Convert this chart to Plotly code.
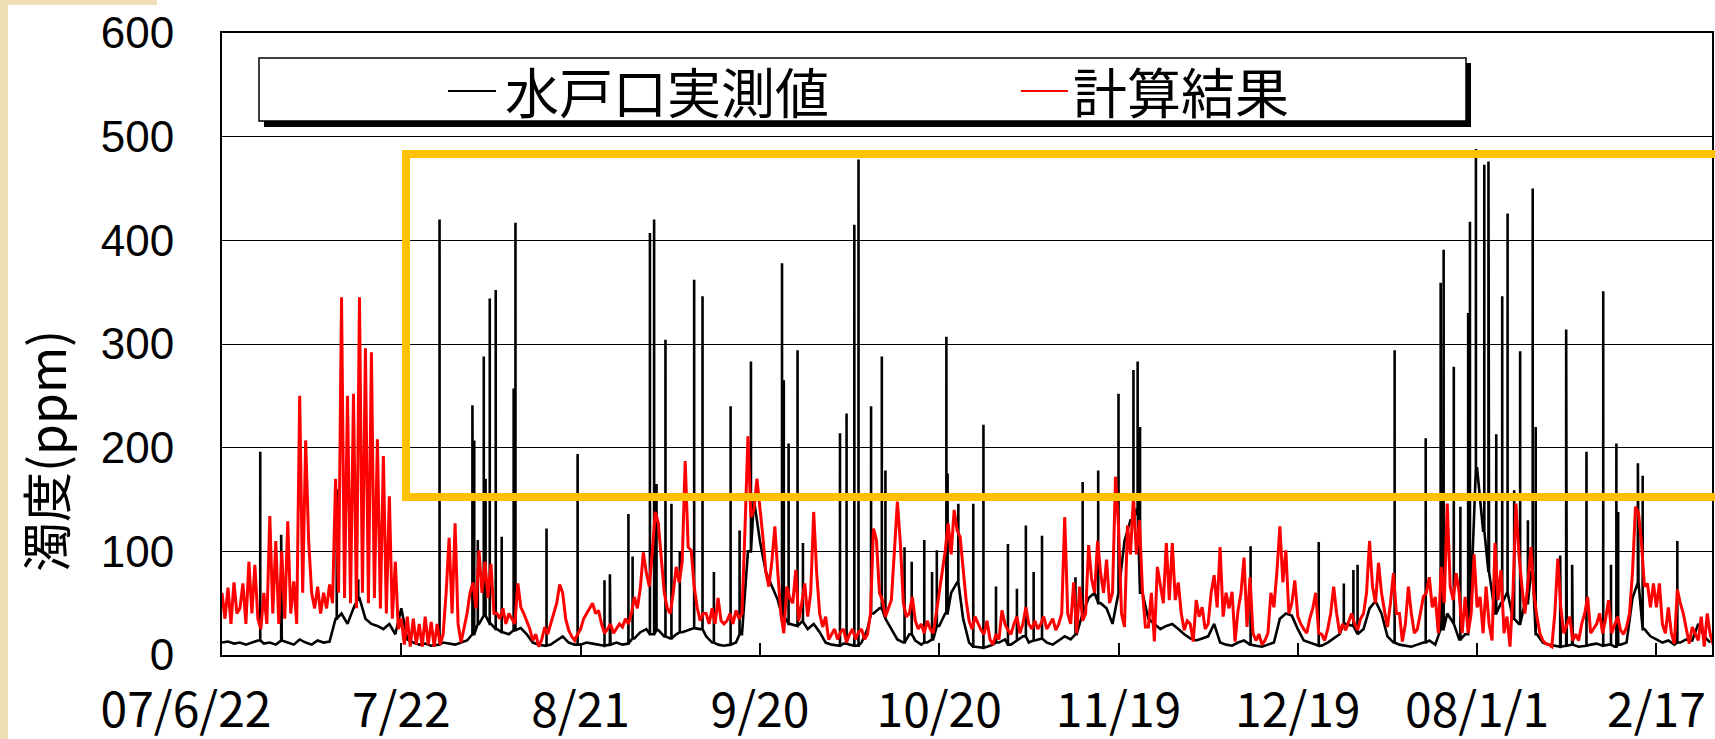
import pandas as pd
import plotly.graph_objects as go

START = pd.Timestamp("2007-06-22")

# 計算結果: 12-hour samples starting 2007-06-22 00:00 (ppm)
calc_ppm = [
    60, 35, 65, 30, 70, 40, 45, 69, 30, 90, 40, 87, 35, 25, 60, 30, 134, 40, 110, 30,
    100, 35, 129, 40, 71, 30, 250, 60, 207, 110, 60, 45, 66, 40, 60, 45, 68, 50, 170, 60,
    345, 55, 250, 50, 252, 45, 345, 60, 296, 50, 292, 55, 208, 45, 192, 40, 153, 35, 90, 25,
    35, 10, 37, 8, 35, 10, 30, 8, 37, 10, 32, 8, 30, 10, 20, 60, 113, 40, 127, 30,
    12, 25, 40, 60, 70, 45, 101, 60, 90, 55, 88, 40, 40, 35, 45, 30, 40, 35, 30, 69,
    46, 40, 33, 25, 14, 20, 8, 15, 27, 20, 30, 40, 50, 68, 60, 35, 24, 18, 14, 20,
    25, 35, 40, 45, 50, 40, 43, 30, 21, 25, 30, 21, 25, 30, 27, 35, 30, 40, 56, 45,
    65, 99, 79, 66, 100, 138, 127, 92, 60, 45, 40, 60, 85, 70, 90, 187, 104, 101, 66, 46,
    33, 40, 40, 30, 45, 30, 55, 33, 30, 33, 40, 30, 43, 35, 40, 120, 211, 133, 140, 170,
    143, 114, 80, 66, 90, 124, 79, 40, 21, 66, 55, 50, 82, 33, 50, 69, 37, 60, 138, 79,
    40, 27, 37, 15, 20, 25, 15, 22, 25, 12, 20, 25, 15, 22, 25, 15, 20, 40, 122, 111,
    60, 53, 37, 45, 53, 100, 148, 108, 50, 37, 40, 56, 33, 25, 30, 21, 33, 25, 21, 40,
    60, 79, 100, 127, 97, 140, 120, 114, 85, 53, 33, 25, 37, 30, 24, 20, 33, 15, 10, 20,
    15, 43, 30, 24, 20, 30, 37, 21, 30, 46, 30, 25, 33, 25, 30, 37, 25, 30, 35, 24,
    30, 40, 133, 40, 30, 70, 21, 66, 33, 40, 106, 73, 60, 110, 79, 60, 92, 50, 60, 172,
    124, 40, 27, 125, 97, 153, 97, 130, 63, 27, 27, 60, 13, 85, 66, 50, 108, 53, 108, 53,
    70, 40, 24, 33, 30, 13, 53, 37, 46, 25, 30, 60, 77, 46, 104, 37, 60, 45, 61, 13,
    43, 60, 94, 27, 75, 21, 14, 20, 10, 14, 21, 60, 46, 80, 124, 70, 101, 40, 50, 72,
    37, 30, 25, 21, 35, 45, 60, 21, 20, 14, 25, 40, 66, 40, 21, 30, 24, 33, 40, 30,
    24, 35, 40, 60, 110, 66, 50, 89, 60, 43, 27, 50, 79, 40, 40, 13, 30, 66, 40, 21,
    25, 40, 56, 60, 75, 46, 56, 21, 85, 50, 146, 66, 53, 79, 60, 21, 56, 21, 40, 97,
    46, 56, 21, 66, 30, 14, 108, 53, 82, 21, 37, 8, 60, 146, 97, 66, 40, 69, 104, 60,
    37, 21, 14, 11, 10, 8, 40, 93, 46, 21, 30, 37, 14, 20, 14, 30, 40, 56, 21, 25,
    30, 40, 21, 35, 53, 21, 30, 37, 24, 20, 27, 40, 80, 143, 137, 108, 66, 69, 46, 69,
    46, 69, 30, 21, 46, 21, 11, 63, 50, 40, 25, 11, 27, 20, 14, 37, 8, 40, 20, 10,
]

# 水戸口実測値: daily background level (ppm)
obs_daily = [
    12, 13, 11, 12, 10, 12, 14, 11, 12, 10,
    14, 12, 10, 15, 12, 10, 14, 12, 13, 35,
    40, 30, 45, 55, 35, 30, 28, 25, 30, 20,
    45, 15, 12, 10, 11, 9, 10, 12, 11, 10,
    12, 14, 20, 30, 38, 30, 25, 22, 20, 24,
    26, 20, 12, 10, 9, 10, 14, 18, 12, 10,
    10, 12, 11, 10, 9, 10, 12, 10, 11, 16,
    22, 25, 20, 24, 18, 16, 20, 22, 24, 26,
    25, 18, 12, 10, 9, 10, 12, 20, 100, 150,
    110, 80, 66, 53, 38, 30, 28, 32, 25, 30,
    22, 12, 10, 9, 11, 10, 9, 12, 25, 40,
    45, 35, 25, 15, 12, 20, 14, 10, 12, 15,
    28, 40, 60, 70, 35, 12, 8, 7, 8, 10,
    12, 15, 10, 14, 18, 12, 14, 16, 12, 10,
    14, 18, 15, 20, 40, 55, 60, 50, 45, 30,
    60, 110, 130, 140, 60, 35, 30, 25, 28, 30,
    25, 20, 16, 14, 16, 18, 30, 12, 10, 9,
    12, 14, 10, 9, 8, 10, 12, 35, 40, 38,
    25, 14, 12, 10, 9, 12, 16, 20, 30, 28,
    20, 25, 45, 52, 40, 18, 12, 10, 9, 8,
    10, 12, 14, 10, 25, 40, 30, 15, 20, 60,
    180, 120, 80, 40, 50, 60, 35, 30, 50, 80,
    20, 12, 10, 9, 8, 9, 10, 8, 9, 10,
    11, 9, 10, 8, 10, 12, 55, 70, 25, 18,
    15, 12, 14, 10, 12, 15, 14, 30, 18, 12,
]

# 水戸口実測値: short turbidity peaks (days after 2007-06-22, ppm)
peak_day = [
    6.4, 9.9, 19.2, 22.8, 36.4, 41.9, 42.2, 42.8, 43.8, 44.1,
    44.8, 45.8, 46.8, 48.8, 49.1, 54.3, 59.5, 64.0, 64.9, 68.0,
    68.7, 71.6, 72.3, 72.7, 74.2, 75.2, 76.6, 79.0, 80.4, 82.3,
    85.1, 86.6, 88.5, 93.7, 94.0, 94.8, 96.3, 97.2, 103.4, 104.5,
    105.8, 106.5, 108.6, 110.4, 111.0, 114.2, 115.4, 117.5, 118.8, 119.6,
    121.2, 121.4, 123.2, 125.7, 127.4, 129.5, 131.5, 133.0, 134.5, 135.8,
    137.2, 142.8, 144.0, 146.6, 150.0, 152.5, 153.2, 153.6, 172.1, 183.5,
    187.7, 189.3, 190.0, 196.2, 201.4, 203.9, 204.4, 206.1, 207.2, 208.5,
    208.8, 209.8, 211.2, 211.9, 213.2, 214.2, 215.1, 216.2, 217.2, 218.5,
    219.3, 219.8, 223.9, 224.9, 225.9, 228.3, 231.1, 232.4, 233.3, 233.6,
    236.9, 237.7, 243.5,
]
peak_ppm = [
    196, 116, 160, 73, 420, 241, 207, 111, 288, 170,
    344, 352, 114, 257, 417, 122, 194, 72, 78, 136,
    95, 407, 420, 165, 304, 146, 100, 362, 346, 80,
    240, 120, 283, 378, 265, 204, 294, 108, 214, 233,
    415, 478, 240, 288, 178, 104, 90, 111, 80, 101,
    307, 175, 146, 146, 222, 66, 107, 64, 125, 80,
    115, 75, 167, 178, 252, 275, 283, 220, 105, 109,
    69, 82, 87, 294, 209, 359, 391, 278, 143, 330,
    418, 488, 473, 476, 213, 346, 426, 159, 293, 130,
    450, 220, 96, 314, 87, 196, 351, 87, 204, 138,
    185, 173, 110,
]

tick_day = [0, 30, 60, 90, 120, 150, 180, 210, 240]
tick_text = ["07/6/22\u2003\u2002", "7/22", "8/21", "9/20", "10/20",
             "11/19", "12/19", "08/1/1", "2/17"]
y_ticks = [0, 100, 200, 300, 400, 500, 600]

# merge background level and short peaks into one observed series
pts = [(float(i), v) for i, v in enumerate(obs_daily)]
for d, v in zip(peak_day, peak_ppm):
    b = obs_daily[min(int(round(d)), len(obs_daily) - 1)]
    pts += [(d - 0.002, b), (d, v), (d + 0.002, b)]
pts.sort()
obs_x = [START + pd.Timedelta(days=d) for d, _ in pts]
obs_y = [v for _, v in pts]

calc_x = pd.date_range(START, periods=len(calc_ppm), freq="12h")

fig = go.Figure()
fig.add_trace(go.Scatter(x=obs_x, y=obs_y, mode="lines", name="水戸口実測値",
                         line=dict(color="#000000", width=2.6)))
fig.add_trace(go.Scatter(x=calc_x, y=calc_ppm, mode="lines", name="計算結果",
                         line=dict(color="#FF0000", width=3)))

W, H = 1715, 739
L, R, T, B = 222, 3, 33, 84
pw, ph = W - L - R, H - T - B


def px(x):
    return (x - L) / pw


def py(y):
    return (H - B - y) / ph


CJK = "Noto Sans CJK JP"
shapes = [
    # slide border texture
    dict(type="rect", xref="paper", yref="paper", x0=px(0), x1=px(8), y0=py(H), y1=py(0),
         fillcolor="#EEDFB6", line=dict(width=0), layer="below"),
    dict(type="rect", xref="paper", yref="paper", x0=px(0), x1=px(157), y0=py(5), y1=py(0),
         fillcolor="#EEDFB6", line=dict(width=0), layer="below"),
    # legend box with drop shadow
    dict(type="rect", xref="paper", yref="paper", x0=px(264), x1=px(1471), y0=py(127), y1=py(63),
         fillcolor="#000000", line=dict(width=0)),
    dict(type="rect", xref="paper", yref="paper", x0=px(259), x1=px(1466), y0=py(121), y1=py(58),
         fillcolor="#FFFFFF", line=dict(color="#000000", width=1.5)),
    dict(type="line", xref="paper", yref="paper", x0=px(448), x1=px(496), y0=py(91), y1=py(91),
         line=dict(color="#000000", width=2)),
    dict(type="line", xref="paper", yref="paper", x0=px(1021), x1=px(1068), y0=py(91), y1=py(91),
         line=dict(color="#FF0000", width=2)),
    # highlighted region
    dict(type="rect", xref="paper", yref="paper", x0=px(406), x1=px(1730), y0=py(497), y1=py(154),
         line=dict(color="#FFC000", width=8), fillcolor="rgba(0,0,0,0)"),
]

annotations = [
    dict(text="水戸口実測値", xref="paper", yref="paper", x=px(503), y=py(91),
         xanchor="left", yanchor="middle", showarrow=False,
         font=dict(family=CJK, size=54, color="#000000")),
    dict(text="計算結果", xref="paper", yref="paper", x=px(1071), y=py(91),
         xanchor="left", yanchor="middle", showarrow=False,
         font=dict(family=CJK, size=54, color="#000000")),
    dict(text="濁度(ppm)", xref="paper", yref="paper", x=px(44), y=py(451),
         xanchor="center", yanchor="middle", textangle=-90, showarrow=False,
         font=dict(family=CJK, size=50, color="#000000")),
]

fig.update_layout(
    width=W, height=H,
    margin=dict(l=L, r=R, t=T, b=B, pad=0, autoexpand=False),
    paper_bgcolor="#FFFFFF", plot_bgcolor="#FFFFFF",
    showlegend=False,
    shapes=shapes,
    annotations=annotations,
    xaxis=dict(
        type="date",
        range=[START, START + pd.Timedelta(days=249.3)],
        tickmode="array",
        tickvals=[START + pd.Timedelta(days=d) for d in tick_day],
        ticktext=tick_text,
        tickangle=0, automargin=False,
        ticks="inside", ticklen=12, tickwidth=1.5, tickcolor="#000000",
        showgrid=False, zeroline=False,
        showline=True, linecolor="#000000", linewidth=2, mirror=True,
        tickfont=dict(family=CJK, size=48, color="#000000"),
        ticklabelstandoff=12,
    ),
    yaxis=dict(
        range=[0, 600], automargin=False,
        tickmode="array", tickvals=y_ticks,
        ticks="", showgrid=True, gridcolor="#000000", gridwidth=1,
        zeroline=False,
        showline=True, linecolor="#000000", linewidth=2, mirror=True,
        tickfont=dict(family="Liberation Sans", size=44, color="#000000"),
        ticklabelstandoff=37,
    ),
)

fig.write_html("out.html")
